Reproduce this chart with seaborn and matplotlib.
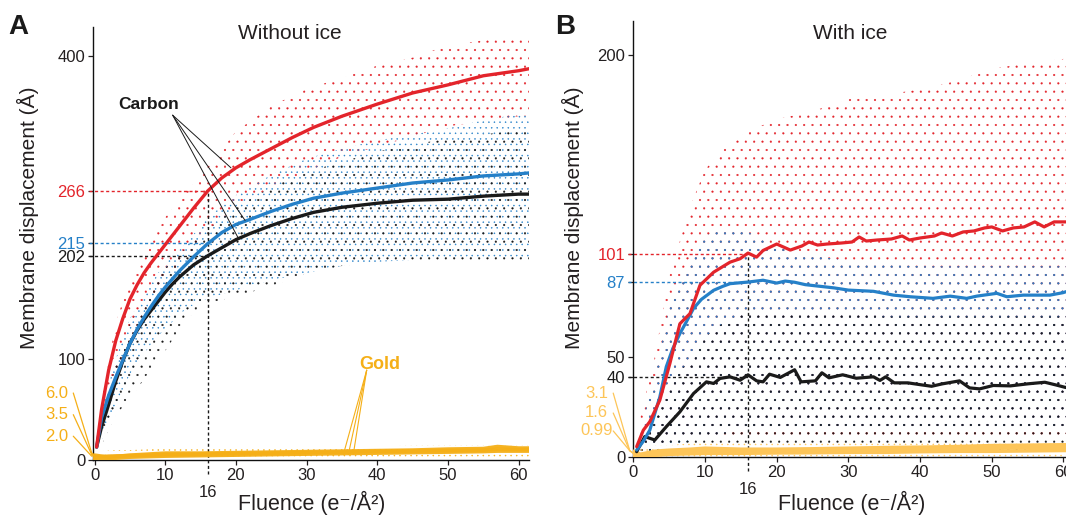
import matplotlib
matplotlib.use("Agg")
import matplotlib.pyplot as plt
import seaborn as sns

# ---------------- data ----------------
# Panel A (without ice) mean displacement curves
fluence_a = [0.3, 1, 2, 3, 4, 5, 6, 7, 8, 9, 10, 11, 12, 13, 14, 16, 18, 20, 22, 25, 28, 31, 35, 40, 45, 50, 55, 60, 61.5]
red_a = [13, 50, 89, 118, 140, 159, 173, 185, 195, 204, 213, 222, 231, 240, 249, 266, 279, 289, 297, 308, 319, 329, 340, 352, 363, 371, 380, 385, 387]
blue_a = [13, 42, 64, 82, 99, 115, 129, 141, 152, 162, 171, 179, 187, 194, 201, 214, 225, 233, 238, 246, 253, 259, 264, 269, 274, 277, 281, 283, 284]
black_a = [13, 33, 55, 78, 98, 115, 128, 139, 148, 157, 166, 174, 181, 187, 193, 202, 210, 218, 224, 232, 239, 245, 250, 254, 257, 258, 261, 263, 263]

gold_a_x = [0, 2, 5, 10, 15, 20, 25, 30, 35, 40, 45, 50, 55, 57, 60, 61.5]
gold_a_1 = [5, 3, 5, 7, 7, 7.5, 8, 8.5, 9, 9.5, 10, 11, 11.5, 13.5, 12, 12]
gold_a_2 = [3, 4, 4.5, 5.5, 6, 6.5, 7, 7.5, 8, 8.5, 9, 9.5, 10, 11, 10.5, 10.5]
gold_a_3 = [1, 1.5, 3, 4, 4.5, 5, 5.5, 6, 6.5, 7, 7.5, 8, 8.5, 9, 9, 9]

# Panel A spread of individual traces (envelopes of the dot clouds)
env_a_x = [1, 3, 5, 8, 10, 13, 16, 20, 25, 30, 35, 40, 45, 50, 55, 60, 61.5]
red_a_hi = [60, 135, 180, 215, 240, 265, 290, 325, 350, 367, 378, 390, 398, 410, 415, 420, 420]
red_a_lo = [30, 80, 120, 160, 180, 200, 225, 250, 270, 285, 300, 310, 320, 330, 335, 340, 340]
blue_a_hi = [50, 100, 140, 175, 195, 215, 240, 262, 282, 298, 308, 316, 322, 328, 336, 342, 342]
blue_a_lo = [20, 55, 85, 115, 130, 150, 160, 168, 178, 185, 192, 196, 198, 200, 200, 200, 200]
black_a_hi = [45, 95, 135, 170, 190, 210, 228, 250, 270, 285, 295, 305, 312, 318, 322, 326, 326]
black_a_lo = [15, 45, 60, 90, 108, 140, 155, 162, 172, 185, 192, 196, 198, 198, 198, 198, 198]
gold_a_hi = [9, 10, 10, 11, 12, 12, 13, 13, 13, 13, 13, 13, 15, 15, 15, 15, 15]

# Panel B (with ice)
fluence_b_red = [0.47, 1.4, 2.3, 3.7, 5.1, 6.5, 7.9, 9.3, 11.2, 13.5, 14.9, 16, 17.2, 18.1, 20, 21.9, 23.5, 24.5,
                 25.7, 27, 29, 30.5, 31.5, 32.5, 34, 36, 37.5, 38.5, 40, 42, 43, 44.5, 46, 47.5, 49, 50, 51.5, 53,
                 54.5, 56, 57.3, 58.7, 61]
red_b = [5.3, 13.5, 17.7, 28.4, 46.6, 66.4, 71.4, 85.5, 92, 97, 98.7, 101.5, 99.5, 102.8, 106, 103, 105, 107,
         105.5, 106, 106.5, 107, 109.5, 107.5, 108, 108.5, 110, 108, 109, 110, 111.5, 110, 112, 112.5, 114, 114.5,
         112.5, 114, 114.5, 117, 114.5, 117, 117]
fluence_b_blue = [0.47, 1.4, 2.3, 3.7, 4.6, 5.5, 6.5, 7.5, 8.4, 9.5, 11.2, 12.5, 13.5, 16, 18.1, 20, 21.2, 22.5,
                  24, 26, 28, 30, 33.5, 36.3, 38.6, 41.8, 44.2, 46.5, 47.9, 50.7, 52.1, 54.4, 58.1, 59.9, 61]
blue_b = [3.6, 8, 13.5, 30, 45, 54, 61.5, 68, 74, 78.5, 83, 85, 86.3, 87.1, 88, 86.6, 87.6, 87, 85.8, 85, 84.2,
          83.1, 82.5, 80.6, 79.8, 79, 80.1, 79, 80.1, 81.5, 79.8, 80.6, 80.6, 81.8, 83]
fluence_b_black = [0.47, 1.6, 3.0, 4.6, 6.5, 8.4, 10.2, 11.2, 12.1, 13.5, 14.9, 16, 17.2, 18.1, 19, 20.5, 22.5,
                   23.4, 25.4, 26.3, 27.3, 29.2, 31.1, 33.5, 34.4, 35.2, 36.4, 38.3, 40.2, 41.6, 43.1, 45.5, 46.9,
                   48.3, 50.2, 52.6, 55, 57.4, 58.9, 60.3, 61]
black_b = [2.8, 10.3, 8.6, 15.2, 22.6, 31.7, 37.5, 36.7, 39.2, 40, 38.3, 41, 38, 37.5, 41.3, 39.7, 43.5, 37.5, 38,
           42, 39.5, 41, 39.3, 40, 38.2, 40, 37, 37, 36, 35.3, 36.5, 38, 34.5, 34, 35.7, 35.5, 36.5, 37.3, 36,
           34.7, 35]

gold_b_x = [0, 1, 3, 5, 8, 10, 15, 20, 25, 30, 35, 40, 45, 50, 55, 60, 61]
gold_b_1 = [3, 1.5, 3, 3.5, 4, 4.5, 4, 4, 4.2, 4.5, 4.8, 5, 5.3, 5.8, 6, 6.2, 6.2]
gold_b_2 = [1.5, 0.8, 2, 2.5, 3, 3.3, 3.2, 3, 3.2, 3.5, 3.7, 4, 4.2, 4.5, 4.8, 5, 5]
gold_b_3 = [0.5, 0.3, 1, 1.5, 1.8, 2, 2, 2.2, 2.3, 2.5, 2.5, 2.8, 3, 3, 3.2, 3.4, 3.4]

env_b_x = [1, 3, 5, 8, 10, 13, 16, 20, 25, 30, 35, 40, 45, 50, 55, 60, 61]
red_b_hi = [20, 50, 90, 125, 143, 155, 162, 168, 172, 178, 180, 183, 187, 193, 196, 198, 198]
red_b_lo = [2, 5, 8, 10, 10, 10, 10, 10, 10, 10, 10, 10, 10, 10, 10, 10, 10]
blue_b_hi = [15, 40, 75, 100, 110, 115, 112, 105, 100, 98, 96, 95, 95, 95, 95, 95, 95]
blue_b_lo = [1, 3, 5, 8, 10, 12, 15, 15, 15, 15, 15, 15, 15, 15, 15, 15, 15]
black_b_hi = [10, 20, 35, 50, 60, 68, 72, 72, 72, 72, 70, 70, 70, 70, 70, 70, 70]
gold_b_hi = [5, 6, 6, 7, 7, 7, 7, 7, 7, 7, 7, 8, 8, 8, 8, 8, 8]

# reference values and labels
ref_a = {"red": 266, "blue": 215, "black": 202}
ref_b = {"red": 101, "blue": 87, "black": 40}
gold_labels_a = ["6.0", "3.5", "2.0"]
gold_labels_b = ["3.1", "1.6", "0.99"]
xticks = [0, 10, 20, 30, 40, 50, 60]

# ---------------- style ----------------
sns.set_theme(style="ticks")
plt.rcParams["font.family"] = ["Liberation Sans", "DejaVu Sans"]
plt.rcParams["hatch.linewidth"] = 0.3

RED = "#E3242B"
BLUE = "#2580C8"
BLACK = "#1A1A1A"
GOLD_A = "#F5AF17"
GOLD_B = "#FDC558"
TXT = "#231F20"
FS_TICK = 12

fig = plt.figure(figsize=(10.66, 5.16), dpi=100)
axA = fig.add_axes([93.3 / 1066, (516 - 460.2) / 516, 436 / 1066, 433 / 516])
axB = fig.add_axes([633.3 / 1066, (516 - 457.3) / 516, 432.7 / 1066, 436 / 516])


def style_axis(ax, xlim, ylim):
    ax.set_xlim(*xlim)
    ax.set_ylim(*ylim)
    for s in ["top", "right"]:
        ax.spines[s].set_visible(False)
    for s in ["left", "bottom"]:
        ax.spines[s].set_linewidth(1.0)
        ax.spines[s].set_color("#111111")
    ax.tick_params(direction="out", length=3.8, width=0.9, pad=2.0, labelsize=FS_TICK,
                   colors=TXT)
    ax.set_xticks(xticks)
    ax.set_xticklabels([str(t) for t in xticks])
    ax.set_xlabel("")
    ax.set_ylabel("")


def band(ax, x, lo, hi, color, hatch, z=1):
    ax.fill_between(x, lo, hi, facecolor="none", edgecolor=color, hatch=hatch,
                    linewidth=0, zorder=z)


# ---------------- Panel A ----------------
ax = axA
zeros_a = [0] * len(env_a_x)
band(ax, env_a_x, zeros_a, gold_a_hi, GOLD_A, "...")
band(ax, env_a_x, red_a_lo, red_a_hi, RED, "..")
band(ax, env_a_x, blue_a_lo, blue_a_hi, BLUE, "...")
band(ax, env_a_x, black_a_lo, black_a_hi, BLACK, "..")

for gy in (gold_a_3, gold_a_2, gold_a_1):
    sns.lineplot(x=gold_a_x, y=gy, color=GOLD_A, lw=2.6, ax=ax, zorder=3, alpha=0.95)
sns.lineplot(x=fluence_a, y=black_a, color=BLACK, lw=2.4, ax=ax, zorder=4)
sns.lineplot(x=fluence_a, y=blue_a, color=BLUE, lw=2.4, ax=ax, zorder=4)
sns.lineplot(x=fluence_a, y=red_a, color=RED, lw=2.4, ax=ax, zorder=4)

style_axis(ax, (-0.17, 61.5), (0, 428))
yt_a = [0, 100, ref_a["black"], ref_a["blue"], ref_a["red"], 400]
ax.set_yticks(yt_a)
ax.set_yticklabels([str(v) for v in yt_a])
cols_a = [TXT, TXT, BLACK, BLUE, RED, TXT]
for lab, c in zip(ax.get_yticklabels(), cols_a):
    lab.set_color(c)
for tk, c in zip(ax.yaxis.get_major_ticks(), cols_a):
    tk.tick1line.set_color(c if c != TXT else "#111111")

dash = (0, (2.2, 1.8))
for key, c in (("red", RED), ("blue", BLUE), ("black", BLACK)):
    ax.plot([-0.8, 16], [ref_a[key]] * 2, color=c, lw=1.0, ls=dash, clip_on=False, zorder=2)
ax.plot([16, 16], [-14, ref_a["red"]], color=BLACK, lw=1.0, ls=dash, clip_on=False, zorder=2)
ax.annotate("16", xy=(16, 0), xytext=(0, -23), textcoords="offset points",
            ha="center", va="center", fontsize=FS_TICK, color=TXT, annotation_clip=False)

ax.text(27.6, 422, "Without ice", ha="center", va="center", fontsize=15, color=TXT)
ax.text(7.6, 352, "Carbon", ha="center", va="center", fontsize=12.5, fontweight="bold", color=BLACK)
for ex, ey in ((19.3, 289), (21.3, 237), (20.3, 220)):
    ax.plot([11.06, ex], [341, ey], color=BLACK, lw=0.7, zorder=5)
ax.text(40.3, 95, "Gold", ha="center", va="center", fontsize=13, fontweight="bold", color=GOLD_A)
for ex in (35.2, 35.9, 36.6):
    ax.plot([38.5, ex], [89, 5.6], color=GOLD_A, lw=0.8, zorder=5)

for lab, ly, ey in zip(gold_labels_a, (66.4, 45, 23.7), (7.2, 5.6, 4.0)):
    ax.text(-5.3, ly, lab, ha="center", va="center", fontsize=FS_TICK, color=GOLD_A, clip_on=False)
    ax.plot([-3.0, -0.4, 0], [ly, ey, 5], color=GOLD_A, lw=0.9, clip_on=False, zorder=5)

# ---------------- Panel B ----------------
ax = axB
zeros_b = [0] * len(env_b_x)
band(ax, env_b_x, red_b_lo, red_b_hi, RED, "..")
band(ax, env_b_x, blue_b_lo, blue_b_hi, BLUE, "..")
band(ax, env_b_x, zeros_b, black_b_hi, BLACK, "..")
band(ax, env_b_x, zeros_b, gold_b_hi, GOLD_B, "...")

for gy in (gold_b_3, gold_b_2, gold_b_1):
    sns.lineplot(x=gold_b_x, y=gy, color=GOLD_B, lw=2.6, ax=ax, zorder=3)
sns.lineplot(x=fluence_b_black, y=black_b, color=BLACK, lw=2.3, ax=ax, zorder=4)
sns.lineplot(x=fluence_b_blue, y=blue_b, color=BLUE, lw=2.3, ax=ax, zorder=4)
sns.lineplot(x=fluence_b_red, y=red_b, color=RED, lw=2.3, ax=ax, zorder=4)

style_axis(ax, (0, 60.35), (0, 216.7))
yt_b = [0, ref_b["black"], 50, ref_b["blue"], ref_b["red"], 200]
ax.set_yticks(yt_b)
ax.set_yticklabels([str(v) for v in yt_b])
cols_b = [TXT, BLACK, TXT, BLUE, RED, TXT]
for lab, c in zip(ax.get_yticklabels(), cols_b):
    lab.set_color(c)
for tk, c in zip(ax.yaxis.get_major_ticks(), cols_b):
    tk.tick1line.set_color(c if c != TXT else "#111111")

for key, c in (("red", RED), ("blue", BLUE), ("black", BLACK)):
    ax.plot([-0.8, 16], [ref_b[key]] * 2, color=c, lw=1.0, ls=dash, clip_on=False, zorder=2)
ax.plot([16, 16], [-7, ref_b["red"]], color=BLACK, lw=1.0, ls=dash, clip_on=False, zorder=2)
ax.annotate("16", xy=(16, 0), xytext=(0, -23), textcoords="offset points",
            ha="center", va="center", fontsize=FS_TICK, color=TXT, annotation_clip=False)

ax.text(30.2, 210.8, "With ice", ha="center", va="center", fontsize=15, color=TXT)
for lab, ly, sy in zip(gold_labels_b, (31.9, 22.4, 13.1), (31.9, 22.0, 13.1)):
    ax.text(-5.1, ly, lab, ha="center", va="center", fontsize=FS_TICK, color=GOLD_B, clip_on=False)
    ax.plot([-2.8, -0.5, 0], [sy, 3.3, 2.0], color=GOLD_B, lw=0.9, clip_on=False, zorder=5)

# ---------------- figure-level text ----------------
ylab = "Membrane displacement (Å)"
fig.text(28 / 1066, 1 - 218 / 516, ylab, rotation=90, ha="center", va="center", fontsize=15, color=TXT)
fig.text(573 / 1066, 1 - 218 / 516, ylab, rotation=90, ha="center", va="center", fontsize=15, color=TXT)
xlab = "Fluence (e\u207b/Å\u00b2)"
fig.text(312 / 1066, 1 - 503 / 516, xlab, ha="center", va="center", fontsize=15.5, color=TXT)
fig.text(852 / 1066, 1 - 503 / 516, xlab, ha="center", va="center", fontsize=15.5, color=TXT)
fig.text(18 / 1066, 1 - 27 / 516, "A", ha="center", va="center", fontsize=20, fontweight="bold",
         family=["Liberation Sans Narrow", "Liberation Sans"], color=BLACK)
fig.text(565 / 1066, 1 - 27 / 516, "B", ha="center", va="center", fontsize=20, fontweight="bold",
         family=["Liberation Sans Narrow", "Liberation Sans"], color=BLACK)

fig.savefig("out.png", dpi=100)
